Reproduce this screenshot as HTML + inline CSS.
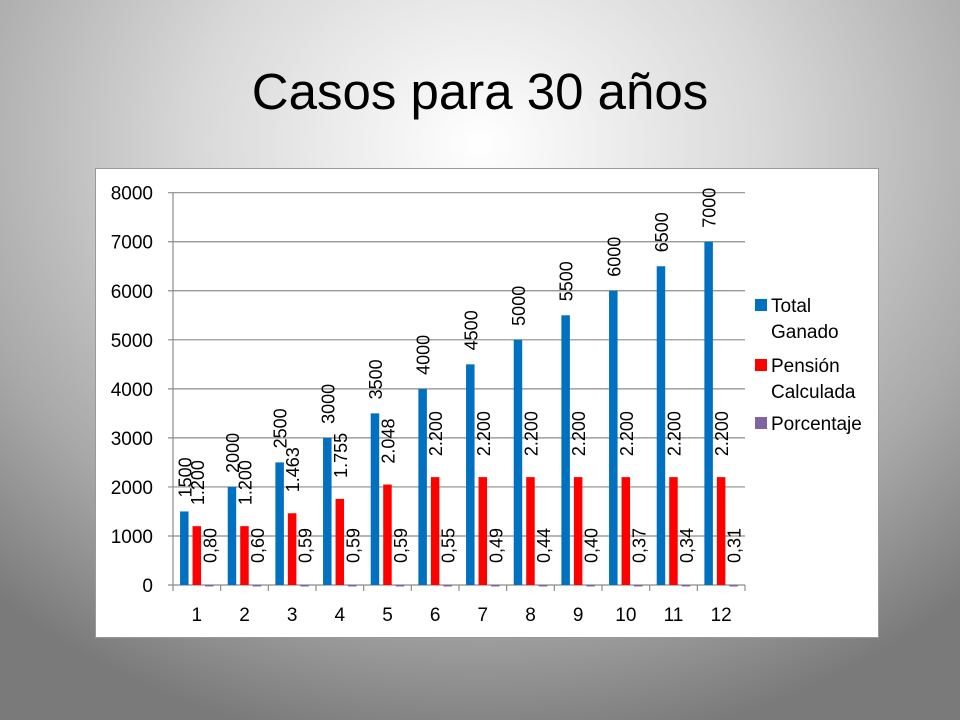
<!DOCTYPE html>
<html><head><meta charset="utf-8"><style>
html,body{margin:0;padding:0}
body{width:960px;height:720px;overflow:hidden;background:radial-gradient(ellipse 75% 85% at 50% 20%,#ffffff 0%,#d8d8d8 40%,#a8a8a8 75%,#7a7a7a 100%);font-family:"Liberation Sans",sans-serif;position:relative}
#title{position:absolute;left:0;top:62px;width:960px;text-align:center;font-size:51px;color:#000}
#frame{position:absolute;left:95px;top:168px;width:782px;height:468px;background:#fff;border:1px solid #999}
svg{position:absolute;left:0;top:0}
</style></head><body>
<div id="title">Casos para 30 años</div>
<div id="frame"></div>
<svg id="chart" width="960" height="720"></svg>
<script>
const categories=["1","2","3","4","5","6","7","8","9","10","11","12"];
const totalGanado=[1500,2000,2500,3000,3500,4000,4500,5000,5500,6000,6500,7000];
const pension=[1200,1200,1463,1755,2048,2200,2200,2200,2200,2200,2200,2200];
const porcentaje=[0.80,0.60,0.59,0.59,0.59,0.55,0.49,0.44,0.40,0.37,0.34,0.31];
const totalLabels=["1500","2000","2500","3000","3500","4000","4500","5000","5500","6000","6500","7000"];
const pensionLabels=["1.200","1.200","1.463","1.755","2.048","2.200","2.200","2.200","2.200","2.200","2.200","2.200"];
const pctLabels=["0,80","0,60","0,59","0,59","0,59","0,55","0,49","0,44","0,40","0,37","0,34","0,31"];
const yTicks=[0,1000,2000,3000,4000,5000,6000,7000,8000];
const X0=173,X1=745,Y0=585,Y1=192.7,YMAX=8000;
const cw=(X1-X0)/categories.length;
const y=v=>Y0-(v/YMAX)*(Y0-Y1);
const xc=(i,s)=>X0+i*cw+11.3+s*12.5;
const svg=document.getElementById('chart');
const NS="http://www.w3.org/2000/svg";
function mk(t,a){const e=document.createElementNS(NS,t);for(const k in a)e.setAttribute(k,a[k]);svg.appendChild(e);return e;}
yTicks.forEach(v=>{
 const l=mk('line',{x1:X0-5,x2:X1,y1:y(v),y2:y(v),stroke:'#8c8c8c','stroke-width':1.2});
 
 
 const t=mk('text',{x:153,y:y(v)+7,'text-anchor':'end','font-size':19,fill:'#000'});
 t.textContent=v;
 
 
});
const ax=mk('line',{x1:X0,x2:X0,y1:Y1,y2:Y0,stroke:'#8c8c8c','stroke-width':1.2});


for(let i=0;i<=categories.length;i++){
 const tk=mk('line',{x1:X0+i*cw,x2:X0+i*cw,y1:Y0,y2:Y0+6,stroke:'#8c8c8c','stroke-width':1.2});
 
 
}
const series=[[totalGanado,totalLabels,'#0070c0',14],[pension,pensionLabels,'#ff0000',21],[porcentaje,pctLabels,'#8064a2',20]];
categories.forEach((c,i)=>{
 const t=mk('text',{x:X0+(i+0.5)*cw,y:621,'text-anchor':'middle','font-size':19,fill:'#000'});
 t.textContent=c;
 
 
 series.forEach((s,k)=>{
  const v=s[0][i],cx=xc(i,k),top=y(v);
  const r=mk('rect',{x:cx-4.25,y:top,width:8.5,height:Math.max(Y0-top,1.5),fill:s[2]});
  
  
  const lx=cx+7,ly=Math.min(top,Y0-2)-s[3];
  const lb=mk('text',{x:lx,y:ly,'font-size':18,fill:'#000',transform:`rotate(-90 ${lx} ${ly})`});
  lb.textContent=s[1][i];
  
  
 });
});
const leg=[["#0070c0",["Total","Ganado"],310],["#ff0000",["Pensión","Calculada"],370],["#8064a2",["Porcentaje"],428]];
leg.forEach(([c,lines,ly])=>{
 const sq=mk('rect',{x:755,y:ly-11,width:12,height:12,fill:c});
 
 
 lines.forEach((tx,j)=>{
  const t=mk('text',{x:771,y:ly+j*26+2,'font-size':19,fill:'#000'});
  t.textContent=tx;
  
  
 });
});
</script>
</body></html>
